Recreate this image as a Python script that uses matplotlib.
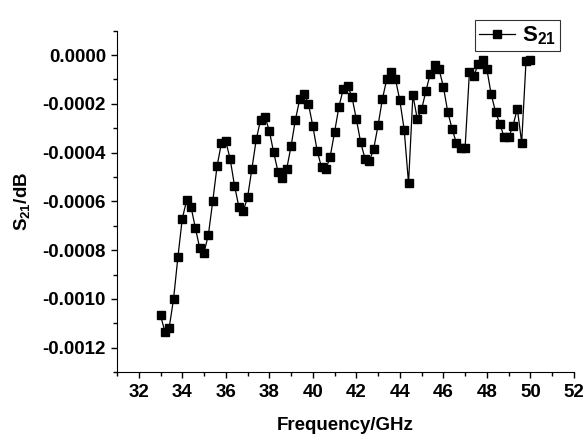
import numpy as np
import matplotlib
matplotlib.use('Agg')
import matplotlib.pyplot as plt
from matplotlib.ticker import MultipleLocator, FuncFormatter

plt.rcParams['font.family'] = ['Liberation Sans', 'DejaVu Sans']
plt.rcParams['font.weight'] = 'bold'
plt.rcParams['axes.unicode_minus'] = False
plt.rcParams['mathtext.fontset'] = 'custom'
plt.rcParams['mathtext.rm'] = 'Liberation Sans:bold'
plt.rcParams['mathtext.bf'] = 'Liberation Sans:bold'

# frequency points (GHz)
freq = [33.0, 33.2, 33.4, 33.6, 33.8, 34.0, 34.2, 34.4, 34.6, 34.8,
        35.0, 35.2, 35.4, 35.6, 35.8, 36.0, 36.2, 36.4, 36.6, 36.8,
        37.0, 37.2, 37.4, 37.6, 37.8, 38.0, 38.2, 38.4, 38.6, 38.8,
        39.0, 39.2, 39.4, 39.6, 39.8, 40.0, 40.2, 40.4, 40.6, 40.8,
        41.0, 41.2, 41.4, 41.6, 41.8, 42.0, 42.2, 42.4, 42.6, 42.8,
        43.0, 43.2, 43.4, 43.6, 43.8, 44.0, 44.2, 44.4, 44.6, 44.8,
        45.0, 45.2, 45.4, 45.6, 45.8, 46.0, 46.2, 46.4, 46.6, 46.8,
        47.0, 47.2, 47.4, 47.6, 47.8, 48.0, 48.2, 48.4, 48.6, 48.8,
        49.0, 49.2, 49.4, 49.6, 49.8, 50.0]

# S21 values (dB)
s21 = [-0.001067, -0.001134, -0.001118, -0.001000, -0.000828, -0.000671,
       -0.000596, -0.000622, -0.000708, -0.000791, -0.000810, -0.000737,
       -0.000600, -0.000455, -0.000361, -0.000354, -0.000426, -0.000535,
       -0.000622, -0.000641, -0.000584, -0.000467, -0.000346, -0.000265,
       -0.000253, -0.000310, -0.000399, -0.000478, -0.000506, -0.000467,
       -0.000374, -0.000265, -0.000181, -0.000158, -0.000200, -0.000291,
       -0.000392, -0.000461, -0.000469, -0.000416, -0.000316, -0.000212,
       -0.000139, -0.000125, -0.000172, -0.000262, -0.000358, -0.000425,
       -0.000435, -0.000384, -0.000288, -0.000180, -0.000098, -0.000069,
       -0.000099, -0.000186, -0.000306, -0.000526, -0.000164, -0.000261,
       -0.000223, -0.000147, -0.000076, -0.000042, -0.000058, -0.000129,
       -0.000232, -0.000302, -0.000361, -0.000380, -0.000380, -0.000068,
       -0.000087, -0.000036, -0.000020, -0.000058, -0.000161, -0.000233,
       -0.000283, -0.000338, -0.000338, -0.000290, -0.000220, -0.000359,
       -0.000025, -0.000021]

def fmt_y(v, pos):
    if abs(v) < 1e-9:
        v = 0.0
    return '%.4f' % v

fig = plt.figure(figsize=(5.85, 4.45), dpi=100)
ax = fig.add_axes([0.2, 0.164, 0.781, 0.767])

ax.plot(freq, s21, '-s', color='black', linewidth=0.9,
        markersize=5.5, markeredgecolor='black', label=r'S$_{21}$')

ax.set_xlim(31, 52)
ax.set_ylim(-0.0013, 0.0001)
ax.xaxis.set_major_locator(MultipleLocator(2))
ax.xaxis.set_minor_locator(MultipleLocator(1))
ax.yaxis.set_major_locator(MultipleLocator(0.0002))
ax.yaxis.set_minor_locator(MultipleLocator(0.0001))
ax.yaxis.set_major_formatter(FuncFormatter(fmt_y))

# only left and bottom axes
ax.spines['top'].set_visible(False)
ax.spines['right'].set_visible(False)
ax.tick_params(which='major', direction='out', length=4.5, width=1, labelsize=13.5)
ax.tick_params(which='minor', direction='out', length=3, width=1)
ax.tick_params(axis='x', which='major', pad=4)

ax.set_xlabel('Frequency/GHz', fontsize=13.5, fontweight='bold', labelpad=12)
ax.set_ylabel(r'S$_{21}$/dB', fontsize=13.5, fontweight='bold', labelpad=7)

leg = ax.legend(loc='upper right', bbox_to_anchor=(560 / 585, 1 - 20 / 445),
                bbox_transform=fig.transFigure, fontsize=16,
                frameon=True, fancybox=False, edgecolor='black',
                handlelength=1.6, handletextpad=0.3, borderpad=0.2,
                borderaxespad=0.0)
leg.get_frame().set_linewidth(0.8)

fig.savefig('out.png', dpi=100)
